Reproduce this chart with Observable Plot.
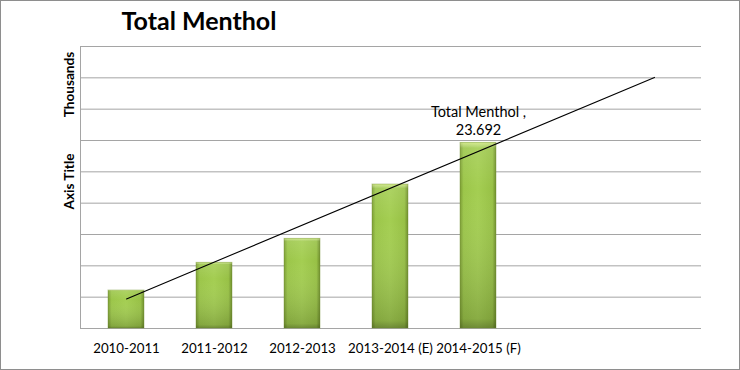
<!DOCTYPE html>
<html><head><meta charset="utf-8">
<script src="https://cdn.jsdelivr.net/npm/d3@7"></script>
<script src="https://cdn.jsdelivr.net/npm/@observablehq/plot@0.6"></script>
<style>
html,body{margin:0;padding:0;background:#fff;}
#chart svg{display:block;outline:1px solid #8e8e8e;outline-offset:-1px;}
</style></head><body><div id="chart"></div>
<script>
const categories = ["2010-2011", "2011-2012", "2012-2013", "2013-2014 (E)", "2014-2015 (F)"];
const forecastSlots = ["f1", "f2"];
const values = [4.85, 8.38, 11.44, 18.38, 23.692];
const trendCategories = ["2010-2011", "f2"];
const trendValues = [3.78, 32.05];
const yTicks = [0, 4, 8, 12, 16, 20, 24, 28, 32, 36];
const titleText = "Total Menthol";
const yTitleTop = "Thousands";
const yTitleMain = "Axis Title";
const dataLabel = "Total Menthol ,\n23.692";

const data = categories.map((c, i) => ({cat: c, value: values[i]}));
const trend = trendCategories.map((c, i) => ({cat: c, value: trendValues[i]}));

function gradients() {
  const defs = d3.create("svg:defs");
  const h = defs.append("linearGradient").attr("id", "barH")
    .attr("x1", 0).attr("x2", 1).attr("y1", 0).attr("y2", 0);
  [[0, "#7b9d33"], [0.1, "#9cc64a"], [0.5, "#a4ce52"], [0.9, "#98c146"], [1, "#6e8e2b"]]
    .forEach(([o, c]) => h.append("stop").attr("offset", o).attr("stop-color", c));
  const v = defs.append("linearGradient").attr("id", "barV")
    .attr("x1", 0).attr("x2", 0).attr("y1", 0).attr("y2", 1);
  [[0, "#f4ffb0", 0.6], [0.03, "#ffffff", 0.1], [0.25, "#ffffff", 0], [0.95, "#000000", 0.16], [1, "#000000", 0.32]]
    .forEach(([o, c, a]) => v.append("stop").attr("offset", o).attr("stop-color", c).attr("stop-opacity", a));
  return defs.node();
}

function leftAxis(index, scales, values, dims) {
  const yMax = yTicks[yTicks.length - 1];
  return d3.create("svg:line")
    .attr("x1", dims.marginLeft + 0.5).attr("x2", dims.marginLeft + 0.5)
    .attr("y1", scales.y(yMax)).attr("y2", scales.y(0))
    .attr("stroke", "#a5a5a5").node();
}

const chart = Plot.plot({
  width: 740,
  height: 370,
  marginLeft: 80,
  marginRight: 39,
  marginTop: 46,
  marginBottom: 42,
  style: {fontFamily: "Lato, sans-serif", color: "#000", background: "#fff"},
  x: {domain: [...categories, ...forecastSlots], paddingInner: 0.59, paddingOuter: 0.295, label: null},
  y: {domain: [0, 36], axis: null},
  marks: [
    gradients,
    Plot.ruleY(yTicks, {stroke: "#a5a5a5", strokeWidth: 1}),
    leftAxis,
    Plot.axisX({tickSize: 0, tickPadding: 15, fontSize: 13.3, label: null,
      tickFormat: d => categories.includes(d) ? d : ""}),
    Plot.barY(data, {x: "cat", y: "value", fill: "url(#barH)"}),
    Plot.barY(data, {x: "cat", y: "value", fill: "url(#barV)", stroke: "#6f8f2c", strokeOpacity: 0.4}),
    Plot.line(trend, {x: "cat", y: "value", stroke: "#000", strokeWidth: 1.1}),
    Plot.text([dataLabel], {x: () => categories[4], y: () => values[4], text: d => d,
      lineAnchor: "bottom", lineHeight: 1.24, dy: -8, fontSize: 14.5, fill: "#000"}),
    Plot.text([titleText], {frameAnchor: "top-left", dx: 118.5, dy: -17, lineAnchor: "bottom",
      textAnchor: "middle", fontSize: 25, fontWeight: "bold", fill: "#000"}),
    Plot.text([yTitleTop], {frameAnchor: "top-left", dx: -11, dy: 38, rotate: -90,
      lineAnchor: "middle", textAnchor: "middle", fontSize: 13.6, fontWeight: "bold", fill: "#000"}),
    Plot.text([yTitleMain], {frameAnchor: "top-left", dx: -11, dy: 135, rotate: -90,
      lineAnchor: "middle", textAnchor: "middle", fontSize: 13.6, fontWeight: "bold", fill: "#000"})
  ]
});
document.getElementById("chart").append(chart);
</script></body></html>
